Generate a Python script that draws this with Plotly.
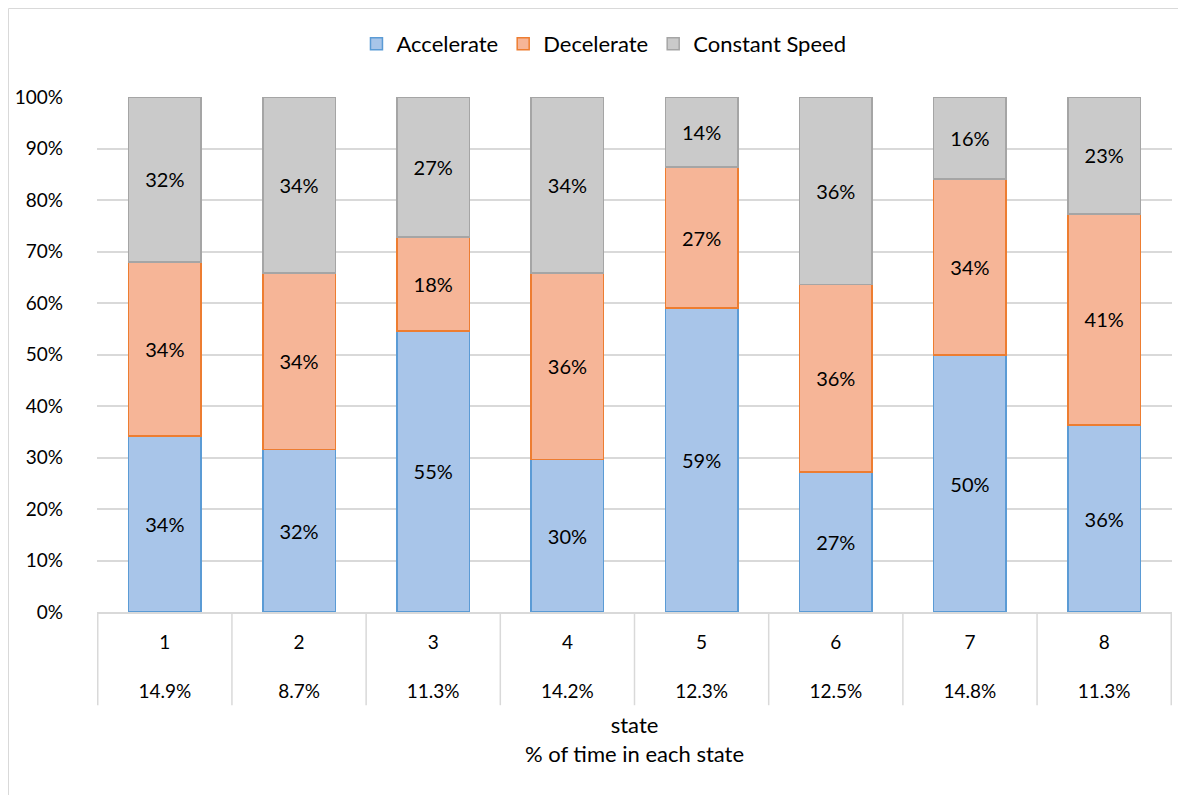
import plotly.graph_objects as go

states = ["1", "2", "3", "4", "5", "6", "7", "8"]
time_share = ["14.9%", "8.7%", "11.3%", "14.2%", "12.3%", "12.5%", "14.8%", "11.3%"]

accelerate = [34.2, 31.6, 54.6, 29.6, 59.0, 27.2, 49.9, 36.3]
decelerate = [33.8, 34.2, 18.2, 36.2, 27.4, 36.4, 34.2, 41.0]
constant = [32.0, 34.2, 27.2, 34.2, 13.6, 36.4, 15.9, 22.7]

FONT = "Lato"
GRID = "#D9D9D9"

series = [
    ("Accelerate", accelerate, "#A8C5E9", "#5B9BD5"),
    ("Decelerate", decelerate, "#F6B597", "#ED7D31"),
    ("Constant Speed", constant, "#CACACA", "#A5A5A5"),
]

fig = go.Figure()
for name, vals, fill, edge in series:
    fig.add_trace(go.Bar(
        x=states, y=vals, name=name,
        marker=dict(color=fill, line=dict(color=edge, width=1.5)),
        texttemplate="%{y:.0f}%", textposition="inside", insidetextanchor="middle",
        textfont=dict(family=FONT, size=20, color="#000000"),
        hoverinfo="skip",
    ))

# two-row category table under the x axis (state / % of time)
ticktext = [f"{s}<br><br>{t}" for s, t in zip(states, time_share)]
dividers = [
    dict(type="line", xref="x", yref="paper", x0=i - 0.5, x1=i - 0.5, y0=0, y1=-0.181,
         line=dict(color=GRID, width=1.5))
    for i in range(len(states) + 1)
]
# chart frame (top / left edges)
frame = [
    dict(type="line", xref="paper", yref="paper", x0=-0.0823, x1=1.03, y0=1.1718, y1=1.1718,
         line=dict(color=GRID, width=1)),
    dict(type="line", xref="paper", yref="paper", x0=-0.0823, x1=-0.0823, y0=1.1718, y1=-0.4,
         line=dict(color=GRID, width=1)),
]

fig.update_layout(
    barmode="stack",
    bargap=0.46,
    width=1178, height=787,
    margin=dict(l=89, r=14, t=89, b=183),
    paper_bgcolor="white", plot_bgcolor="white",
    font=dict(family=FONT, size=19, color="#000000"),
    uniformtext=dict(mode="show", minsize=19),
    showlegend=True,
    legend=dict(
        orientation="h", x=0.4716, xanchor="center", y=1.103, yanchor="middle",
        font=dict(family=FONT, size=22), itemwidth=30, traceorder="normal",
    ),
    shapes=dividers + frame,
)

fig.update_yaxes(
    range=[0, 100], dtick=10, ticksuffix="%",
    showgrid=True, gridcolor=GRID, gridwidth=1.5,
    zeroline=False, showline=False, ticks="", ticklabelstandoff=33,
    tickfont=dict(family=FONT, size=19), automargin=False,
)
fig.update_xaxes(
    tickvals=states, ticktext=ticktext,
    showline=True, linecolor=GRID, linewidth=1.5, showgrid=False,
    ticks="", ticklabelstandoff=12, tickfont=dict(family=FONT, size=19),
    title=dict(text="state<br>% of time in each state", font=dict(family=FONT, size=22), standoff=17),
    automargin=False,
)

fig.write_html("out.html")
